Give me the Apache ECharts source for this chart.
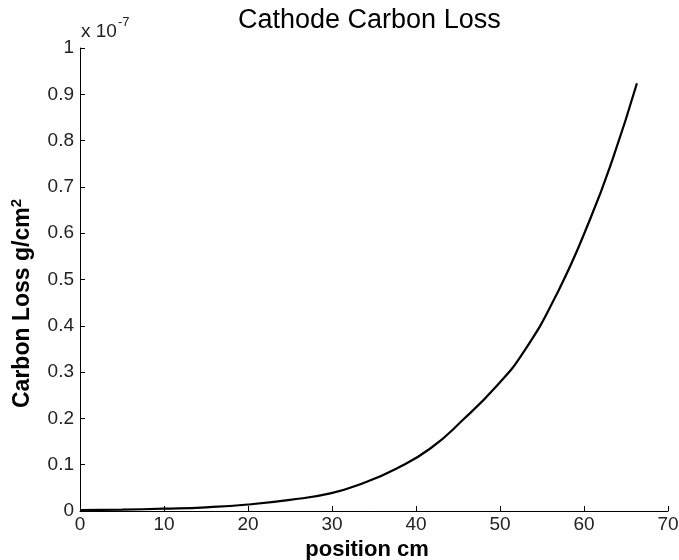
<!DOCTYPE html>
<html>
<head>
<meta charset="utf-8">
<script src="https://cdn.jsdelivr.net/npm/echarts@6/dist/echarts.min.js"></script>
<style>
html,body{margin:0;padding:0;background:#fff;}
#chart{width:679px;height:560px;}
</style>
</head>
<body>
<div id="chart"></div>
<script>
// Data (carbon loss in units of 1e-7 g/cm^2)
var positions = [0, 5, 10, 15, 20, 25, 29.8, 33.7, 37.7, 41.7, 45.6, 49.6, 52.8, 56.8, 60.7, 63.5, 66.3];
var carbonLoss = [0.002, 0.003, 0.005, 0.008, 0.014, 0.024, 0.038, 0.060, 0.092, 0.135, 0.197, 0.270, 0.343, 0.470, 0.629, 0.765, 0.924];
var xTicks = [0, 10, 20, 30, 40, 50, 60, 70];
var yTicks = [0, 0.1, 0.2, 0.3, 0.4, 0.5, 0.6, 0.7, 0.8, 0.9, 1];

var seriesData = positions.map(function (x, i) { return [x, carbonLoss[i]]; });

var chart = echarts.init(document.getElementById('chart'));
var font = 'Liberation Sans, Arial, Helvetica, sans-serif';
chart.setOption({
  animation: false,
  backgroundColor: '#fff',
  title: {
    text: 'Cathode Carbon Loss',
    left: 238,
    top: 7,
    padding: 0,
    textStyle: { fontFamily: font, fontSize: 27, fontWeight: 'normal', color: '#000' }
  },
  grid: { left: 80, right: 11, top: 48, bottom: 49, containLabel: false, outerBoundsMode: 'none' },
  xAxis: {
    type: 'value',
    min: xTicks[0], max: xTicks[xTicks.length - 1], interval: 10,
    name: 'position cm',
    nameLocation: 'middle',
    nameGap: 27,
    nameTextStyle: { fontFamily: font, fontSize: 22, fontWeight: 'bold', color: '#000', padding: [0, 14, 0, 0] },
    axisLine: { show: true, onZero: false, lineStyle: { color: '#000', width: 1 } },
    axisTick: { show: true, inside: true, length: 5, lineStyle: { color: '#000' } },
    axisLabel: { fontFamily: font, fontSize: 19, color: '#222', margin: 4 },
    splitLine: { show: false }
  },
  yAxis: {
    type: 'value',
    min: yTicks[0], max: yTicks[yTicks.length - 1], interval: 0.1,
    name: '{n|Carbon Loss g/cm}{s|2}',
    nameLocation: 'middle',
    nameRotate: 90,
    nameGap: 44,
    nameTextStyle: {
      fontFamily: font, color: '#000', padding: [0, 48, 0, 0],
      rich: {
        n: { fontFamily: font, fontSize: 23, fontWeight: 'bold', color: '#000' },
        s: { fontFamily: font, fontSize: 15, fontWeight: 'bold', color: '#000', padding: [0, 0, 12, 0] }
      }
    },
    axisLine: { show: true, onZero: false, lineStyle: { color: '#000', width: 1 } },
    axisTick: { show: true, inside: true, length: 5, lineStyle: { color: '#000' } },
    axisLabel: { fontFamily: font, fontSize: 19, color: '#222', margin: 6 },
    splitLine: { show: false }
  },
  graphic: [{
    type: 'text',
    left: 81,
    top: 16,
    style: {
      text: '{a|x 10}{b|-7}',
      rich: {
        a: { fontFamily: font, fontSize: 19, fill: '#222', padding: [10, 0, 0, 0] },
        b: { fontFamily: font, fontSize: 13, fill: '#222', padding: [0, 0, 9, 1] }
      }
    }
  }],
  series: [{
    type: 'line',
    data: seriesData,
    smooth: 0.5,
    showSymbol: false,
    lineStyle: { color: '#000', width: 2.2 }
  }]
});
</script>
</body>
</html>
